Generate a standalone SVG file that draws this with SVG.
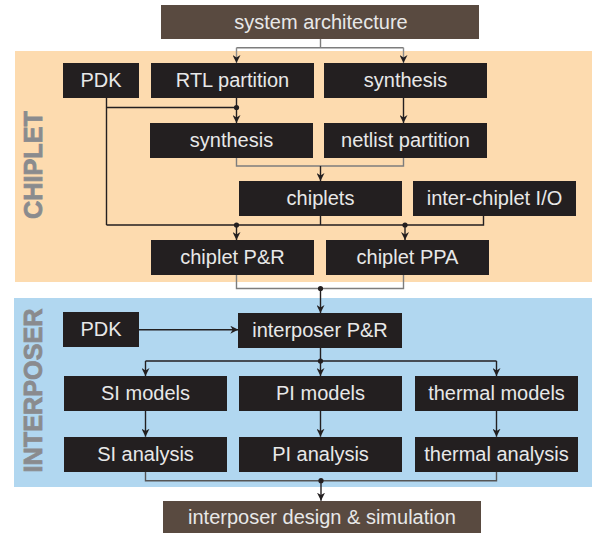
<svg xmlns="http://www.w3.org/2000/svg" width="592" height="533" viewBox="0 0 592 533">
<style>
.box{fill:#231f20}
.brn{fill:#594a40}
.t{font-family:"Liberation Sans",Arial,sans-serif;font-size:20px;fill:#e8e8e8;text-anchor:middle}
.lbl{font-family:"Liberation Sans",Arial,sans-serif;font-size:25.5px;font-weight:bold;fill:#8a8b8e;stroke:#8a8b8e;stroke-width:0.8;text-anchor:middle}
.ln{fill:none;stroke:#231f20;stroke-width:1.4}
.gl{fill:none;stroke:#7d7d7d;stroke-width:1.4}
.ar{fill:none;stroke:#231f20;stroke-width:1.4;marker-end:url(#ah)}
.gar{fill:none;stroke:#8a8a8a;stroke-width:1.4;marker-end:url(#ah)}
.dot{fill:#231f20}
</style>
<defs>
<marker id="ah" viewBox="0 0 10 10" refX="10" refY="5" markerWidth="8" markerHeight="8" markerUnits="userSpaceOnUse" orient="auto">
<path d="M0,0 L10,5 L0,10 L3,5 z" fill="#231f20"/>
</marker>
</defs>
<g id="backgrounds">
<rect x="15" y="51" width="577" height="231" fill="#fddbaf"/>
<rect x="14" y="298" width="578" height="189" fill="#b1d7f0"/>
<text class="lbl" transform="translate(42.3,165) rotate(-90)" textLength="108" lengthAdjust="spacingAndGlyphs">CHIPLET</text>
<text class="lbl" transform="translate(42.3,390.5) rotate(-90)" textLength="164" lengthAdjust="spacingAndGlyphs">INTERPOSER</text>
</g>
<g id="connectors">
<path class="gl" d="M320.5,39 V47.7 M236.5,47.7 H403.5"/>
<path class="gar" d="M236.5,47.7 V63"/>
<path class="gar" d="M403.5,47.7 V63"/>
<path class="ln" d="M236.5,98 V107.5 M106.5,98 V225 M106.5,107.5 H236.5"/>
<path class="ar" d="M236.5,107.5 V123"/>
<path class="ar" d="M403.5,98 V123"/>
<path class="gl" d="M236.5,158 V166 H403.5 V158"/>
<path class="ar" d="M320.5,166 V181"/>
<path class="ln" d="M106.5,225 H483.5 V216 M320.5,216 V225"/>
<path class="ar" d="M236.5,225 V240"/>
<path class="ar" d="M405,225 V240"/>
<path class="gl" d="M236.5,275 V288.5 H403.5 V275"/>
<path class="ar" d="M320.5,288.5 V313"/>
<path class="ar" d="M138.7,329.7 H238.3"/>
<path class="ln" d="M320.5,347.7 V361 M145.5,361 H496.5"/>
<path class="ar" d="M145.5,361 V376"/>
<path class="ar" d="M320.5,361 V376"/>
<path class="ar" d="M496.5,361 V376"/>
<path class="ar" d="M145.5,411 V436.7"/>
<path class="ar" d="M320.5,411 V436.7"/>
<path class="ar" d="M496.5,411 V436.7"/>
<path class="gl" d="M145.5,471.7 V480.7 H496.5 V471.7" style="stroke:#555"/>
<path class="ar" d="M321,480.7 V500.7"/>
<circle class="dot" cx="236.5" cy="107.5" r="2.6"/>
<circle class="dot" cx="236.5" cy="225" r="2.6"/>
<circle class="dot" cx="405" cy="225" r="2.6"/>
<circle class="dot" cx="320.5" cy="288.5" r="2.6"/>
<circle class="dot" cx="320.5" cy="361" r="2.6"/>
<circle class="dot" cx="321" cy="480.7" r="2.6"/>
</g>
<g id="system-architecture"><rect class="brn" x="161" y="5" width="318" height="34"/><text class="t" x="321" y="28.5">system architecture</text></g>
<g id="pdk-chiplet"><rect class="box" x="63" y="63" width="76" height="35"/><text class="t" x="101" y="87">PDK</text></g>
<g id="rtl-partition"><rect class="box" x="151" y="63" width="163" height="35"/><text class="t" x="232.5" y="87">RTL partition</text></g>
<g id="synthesis-1"><rect class="box" x="324" y="63" width="163" height="35"/><text class="t" x="405.5" y="87">synthesis</text></g>
<g id="synthesis-2"><rect class="box" x="150" y="123" width="163" height="35"/><text class="t" x="231.5" y="147">synthesis</text></g>
<g id="netlist-partition"><rect class="box" x="324" y="123" width="163" height="35"/><text class="t" x="405.5" y="147">netlist partition</text></g>
<g id="chiplets"><rect class="box" x="239" y="181" width="163" height="35"/><text class="t" x="320.5" y="205">chiplets</text></g>
<g id="inter-chiplet-io"><rect class="box" x="413" y="181" width="163" height="35"/><text class="t" x="494.5" y="205">inter-chiplet I/O</text></g>
<g id="chiplet-pr"><rect class="box" x="151" y="240" width="163" height="35"/><text class="t" x="232.5" y="264">chiplet P&amp;R</text></g>
<g id="chiplet-ppa"><rect class="box" x="326" y="240" width="163" height="35"/><text class="t" x="407.5" y="264">chiplet PPA</text></g>
<g id="pdk-interposer"><rect class="box" x="63" y="312" width="76" height="35"/><text class="t" x="101" y="336">PDK</text></g>
<g id="interposer-pr"><rect class="box" x="238" y="313" width="164" height="35"/><text class="t" x="320" y="337">interposer P&amp;R</text></g>
<g id="si-models"><rect class="box" x="64" y="376" width="163" height="35"/><text class="t" x="145.5" y="400">SI models</text></g>
<g id="pi-models"><rect class="box" x="239" y="376" width="163" height="35"/><text class="t" x="320.5" y="400">PI models</text></g>
<g id="thermal-models"><rect class="box" x="415" y="376" width="163" height="35"/><text class="t" x="496.5" y="400">thermal models</text></g>
<g id="si-analysis"><rect class="box" x="64" y="437" width="163" height="35"/><text class="t" x="145.5" y="461">SI analysis</text></g>
<g id="pi-analysis"><rect class="box" x="239" y="437" width="163" height="35"/><text class="t" x="320.5" y="461">PI analysis</text></g>
<g id="thermal-analysis"><rect class="box" x="415" y="437" width="163" height="35"/><text class="t" x="496.5" y="461">thermal analysis</text></g>
<g id="interposer-design"><rect class="brn" x="163" y="501" width="318" height="32"/><text class="t" x="322" y="524">interposer design &amp; simulation</text></g>
</svg>
